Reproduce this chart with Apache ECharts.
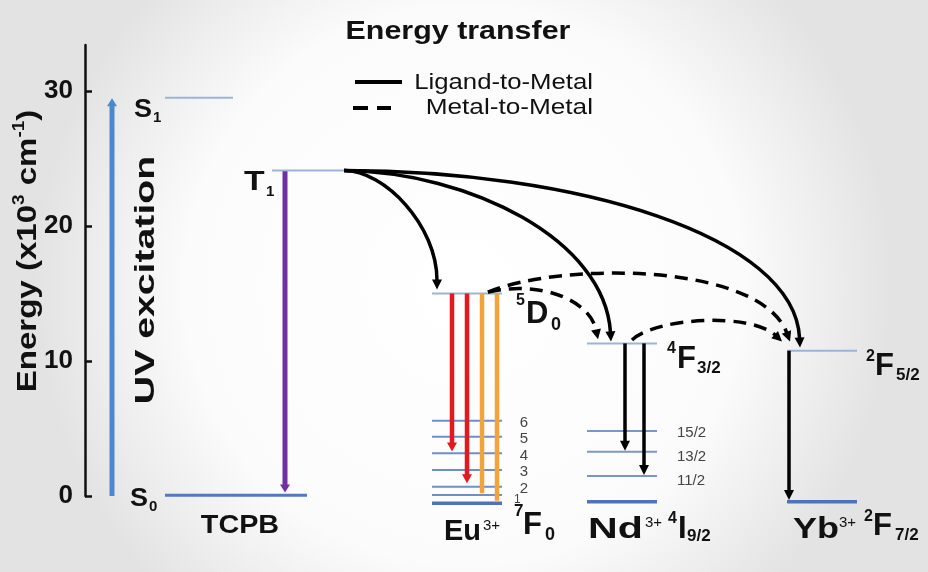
<!DOCTYPE html>
<html>
<head>
<meta charset="utf-8">
<script src="https://cdn.jsdelivr.net/npm/echarts@6/dist/echarts.min.js"></script>
<style>html,body{margin:0;padding:0;background:#fff}#c{width:928px;height:572px}</style>
</head>
<body>
<div id="c"></div>
<script>
// ---- data (x = horizontal column position, E = energy in 10^3 cm^-1) ----
const yTicks = [0, 10, 20, 30];
const ligandLevels = [[165, 233, 29.5], [272, 344, 24.1]];        // S1, T1
const ligandGround = [[165, 307, 0.05]];                             // S0
const euExcited = [[432, 502, 15.0]];                                // 5D0
const euSublevels = [[432, 502, 5.58], [432, 502, 4.39], [432, 502, 3.16], [432, 502, 1.93], [432, 502, 0.69], [432, 502, 0.07]]; // 7F6..7F1
const euGround = [[432, 502, -0.54]];                                // 7F0
const ndExcited = [[587, 657, 11.3]];                                // 4F3/2
const ndSublevels = [[587, 657, 4.81], [587, 657, 3.28], [587, 657, 1.48]]; // 4I15/2,13/2,11/2
const ndGround = [[587, 657, -0.42]];                                // 4I9/2
const ybExcited = [[787, 857, 10.76]];                               // 2F5/2
const ybGround = [[787, 857, -0.42]];                                // 2F7/2

// vertical transitions [x, E_from, E_to]
const uvExcitation = [[112, 0, 29.45]];
const ligandEmission = [[285, 24.05, 0.25]];
const euRedEmission = [[452, 15.0, 3.3], [467, 15.0, 0.95]];
const euOrangeEmission = [[482, 15.0, 0.2], [497, 15.0, -0.35]];
const ndEmission = [[625, 11.3, 3.35], [644, 11.3, 1.55]];
const ybEmission = [[789, 10.76, -0.3]];

// transfer curves [x0,E0, cx1,cE1, cx2,cE2, x1,E1]
const ligandToMetal = [
  [344, 24.1, 385, 24.1, 437, 20.0, 437, 15.3],
  [344, 24.1, 470, 24.0, 605, 18.96, 611, 11.45],
  [344, 24.1, 575, 24.1, 795, 19.3, 800, 11.0]
];
const metalToMetal = [
  [488, 15.1, 540, 16.0, 590, 14.52, 598, 11.6],
  [488, 15.1, 560, 17.33, 760, 17.33, 790, 11.45],
  [632, 11.56, 655, 13.19, 750, 13.63, 782, 11.45]
];
const euSubLabels = ['6', '5', '4', '3', '2', '1'];
const ndSubLabels = ['15/2', '13/2', '11/2'];

// ---- rendering helpers ----
const FONT = '"Liberation Sans", Arial, Helvetica, sans-serif';

function levelSeries(data, color, width) {
  return {
    type: 'custom', coordinateSystem: 'cartesian2d', data: data, z: 2,
    encode: { x: [0, 1], y: 2 }, silent: true,
    renderItem: function (params, api) {
      const e = api.value(2);
      const p0 = api.coord([api.value(0), e]);
      const p1 = api.coord([api.value(1), e]);
      return { type: 'line', shape: { x1: p0[0], y1: p0[1], x2: p1[0], y2: p1[1] },
        style: { stroke: color, lineWidth: width } };
    }
  };
}

function arrowSeries(data, color, width, headLen, headHalf) {
  return {
    type: 'custom', coordinateSystem: 'cartesian2d', data: data, z: 5,
    encode: { x: 0, y: [1, 2] }, silent: true,
    renderItem: function (params, api) {
      const x = api.value(0);
      const p0 = api.coord([x, api.value(1)]);
      const p1 = api.coord([x, api.value(2)]);
      const children = [];
      if (headLen > 0) {
        const d = p1[1] > p0[1] ? 1 : -1;
        const by = p1[1] - d * headLen;
        children.push({ type: 'line', shape: { x1: p0[0], y1: p0[1], x2: p0[0], y2: by + d * 1 },
          style: { stroke: color, lineWidth: width } });
        children.push({ type: 'polygon', shape: { points: [[p1[0], p1[1]], [p1[0] - headHalf, by], [p1[0] + headHalf, by]] },
          style: { fill: color } });
      } else {
        children.push({ type: 'line', shape: { x1: p0[0], y1: p0[1], x2: p1[0], y2: p1[1] },
          style: { stroke: color, lineWidth: width } });
      }
      return { type: 'group', children: children };
    }
  };
}

function curveSeries(data, dash) {
  return {
    type: 'custom', coordinateSystem: 'cartesian2d', data: data, z: 6,
    encode: { x: [0, 2, 4, 6], y: [1, 3, 5, 7] }, silent: true,
    renderItem: function (params, api) {
      const P0 = api.coord([api.value(0), api.value(1)]);
      const C1 = api.coord([api.value(2), api.value(3)]);
      const C2 = api.coord([api.value(4), api.value(5)]);
      const P3 = api.coord([api.value(6), api.value(7)]);
      let dx = P3[0] - C2[0], dy = P3[1] - C2[1];
      const L = Math.sqrt(dx * dx + dy * dy) || 1;
      dx /= L; dy /= L;
      const hl = 10, hw = 5;
      const bx = P3[0] - dx * hl, by = P3[1] - dy * hl;
      const px = -dy, py = dx;
      return { type: 'group', children: [
        { type: 'bezierCurve',
          shape: { x1: P0[0], y1: P0[1], cpx1: C1[0], cpy1: C1[1], cpx2: C2[0], cpy2: C2[1], x2: bx + dx, y2: by + dy },
          style: { stroke: '#000', lineWidth: 3.5, fill: null, lineDash: dash ? [13, 8] : null } },
        { type: 'polygon', shape: { points: [[P3[0], P3[1]], [bx + px * hw, by + py * hw], [bx - px * hw, by - py * hw]] },
          style: { fill: '#000' } }
      ] };
    }
  };
}

function txt(x, y, text, size, opts) {
  opts = opts || {};
  return {
    type: 'text', x: x, y: y, z: 20, silent: true,
    rotation: opts.rot || 0, scaleX: opts.sx || 1, scaleY: 1,
    style: {
      text: text, fill: opts.color || '#111',
      font: (opts.weight || 'bold') + ' ' + size + 'px ' + FONT,
      textAlign: opts.align || 'left', textVerticalAlign: 'middle'
    }
  };
}

const graphics = [
  // title + legend
  txt(458, 32, 'Energy transfer', 26, { align: 'center', sx: 1.17 }),
  txt(593, 83, 'Ligand-to-Metal', 22, { align: 'right', weight: 'normal', sx: 1.17 }),
  txt(593, 108, 'Metal-to-Metal', 22, { align: 'right', weight: 'normal', sx: 1.19 }),
  { type: 'line', z: 20, shape: { x1: 355, y1: 82, x2: 402, y2: 82 }, style: { stroke: '#000', lineWidth: 4 } },
  { type: 'line', z: 20, shape: { x1: 353, y1: 108, x2: 391, y2: 108 }, style: { stroke: '#000', lineWidth: 4, lineDash: [15, 9] } },
  // axis name & UV excitation
  { type: 'text', x: 28, y: 251, z: 20, rotation: Math.PI / 2, scaleX: 1.18, silent: true,
    style: { text: '{b|Energy (x10}{s|3}{b| cm}{s|-1}{b|)}', textAlign: 'center', textVerticalAlign: 'middle',
      rich: { b: { font: 'bold 28px ' + FONT, fill: '#111', lineHeight: 32 },
              s: { font: 'bold 16px ' + FONT, fill: '#111', lineHeight: 16, verticalAlign: 'top' } } } },
  txt(146, 280, 'UV excitation', 28, { align: 'center', rot: Math.PI / 2, sx: 1.4 }),
  // ligand labels
  txt(134, 110, 'S', 25, { sx: 1.08 }), txt(153, 118, '1', 15),
  txt(244, 183, 'T', 27, { sx: 1.25 }), txt(266, 192, '1', 15),
  txt(130, 499, 'S', 25, { sx: 1.08 }), txt(149, 507, '0', 15),
  txt(240, 526, 'TCPB', 25, { align: 'center', sx: 1.15 }),
  // Eu
  txt(516, 301, '5', 16), txt(526, 314, 'D', 31), txt(551, 325, '0', 18),
  txt(514, 511, '7', 17), txt(523, 525, 'F', 31), txt(545, 535, '0', 18),
  txt(444, 532, 'Eu', 29), txt(483, 526, '3+', 15, { weight: 'normal' }),
  // Nd
  txt(667, 349, '4', 16), txt(677, 359, 'F', 31), txt(697, 368, '3/2', 17),
  txt(588, 530, 'Nd', 29, { sx: 1.42 }), txt(645, 523, '3+', 15, { weight: 'normal' }),
  txt(668, 519, '4', 16), txt(678, 529, 'I', 31), txt(687, 536, '9/2', 17),
  // Yb
  txt(866, 357, '2', 16), txt(875, 366, 'F', 31), txt(896, 375, '5/2', 17),
  txt(793, 530, 'Yb', 29, { sx: 1.24 }), txt(839, 523, '3+', 15, { weight: 'normal' }),
  txt(864, 517, '2', 16), txt(873, 526, 'F', 31), txt(895, 535, '7/2', 17)
];
const euLabY = [423, 439, 456, 472, 489];
euSubLabels.slice(0, 5).forEach(function (s, i) {
  graphics.push(txt(524, euLabY[i], s, 15, { align: 'center', weight: 'normal', color: '#444' }));
});
graphics.push(txt(514, 500, euSubLabels[5], 12, { weight: 'normal', color: '#444' }));
const ndLabY = [433, 457, 481];
ndSubLabels.forEach(function (s, i) {
  graphics.push(txt(677, ndLabY[i], s, 15, { weight: 'normal', color: '#444' }));
});

const chart = echarts.init(document.getElementById('c'), null, { renderer: 'canvas' });
chart.setOption({
  animation: false,
  backgroundColor: { type: 'radial', x: 0.5, y: 0.5, r: 0.75,
    colorStops: [{ offset: 0, color: '#ffffff' }, { offset: 0.65, color: '#fbfbfb' }, { offset: 1, color: '#e3e3e3' }] },
  grid: { left: 85, right: 0, top: 45, bottom: 76, containLabel: false },
  xAxis: { type: 'value', min: 85, max: 928, show: false },
  yAxis: {
    type: 'value', min: 0, max: 33.4, interval: 10,
    axisLine: { show: true, lineStyle: { color: '#111', width: 2.5 } },
    axisTick: { show: true, inside: true, length: 7, customValues: yTicks, lineStyle: { color: '#111', width: 2.5 } },
    splitLine: { show: false },
    axisLabel: { color: '#111', fontSize: 26, fontWeight: 'bold', fontFamily: FONT, margin: 12,
      padding: [8, 0, 0, 0], customValues: yTicks,
      formatter: function (v) { return yTicks.indexOf(v) >= 0 ? String(v) : ''; } }
  },
  graphic: graphics,
  series: [
    levelSeries(ligandLevels, '#9db4d6', 2),
    levelSeries(ligandGround, '#5577bb', 3),
    levelSeries(euExcited, '#9db4d6', 2),
    levelSeries(euSublevels, '#6f8ec4', 2),
    levelSeries(euGround, '#4f72b8', 3.5),
    levelSeries(ndExcited, '#9db4d6', 2),
    levelSeries(ndSublevels, '#7a97c8', 2),
    levelSeries(ndGround, '#4f72b8', 3.5),
    levelSeries(ybExcited, '#9db4d6', 2),
    levelSeries(ybGround, '#4f72b8', 3.5),
    arrowSeries(uvExcitation, '#4a88d0', 5, 8, 5),
    arrowSeries(ligandEmission, '#7030a0', 5, 8, 5),
    arrowSeries(euRedEmission, '#e3191f', 4.5, 9, 5),
    arrowSeries(euOrangeEmission, '#f2a33a', 4.5, 0, 0),
    arrowSeries(ndEmission, '#000', 3.5, 10, 5),
    arrowSeries(ybEmission, '#000', 3.5, 10, 5),
    curveSeries(ligandToMetal, false),
    curveSeries(metalToMetal, true)
  ]
});
</script>
</body>
</html>
